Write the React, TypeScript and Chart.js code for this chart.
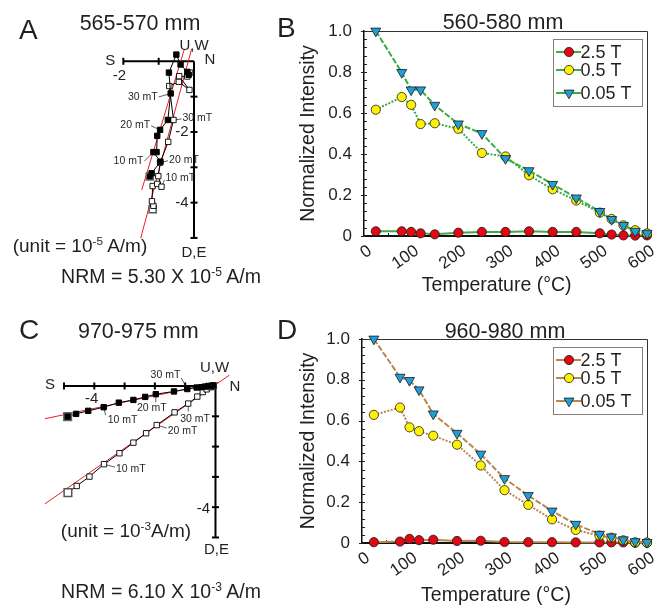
import React, { useEffect, useRef } from 'react';
import { Chart, registerables } from 'chart.js';

Chart.register(...registerables);

const FONT = '"Liberation Sans", Arial, Helvetica, sans-serif';
const INK = '#231f20';
const RED_FIT = '#ee1c25';
const RED = '#e30613';
const YELLOW = '#fff200';
const BLUE = '#1e9fd9';
const GREEN = '#3eab47';
const BROWN = '#b8874f';

// ---------- Thermal demagnetization of IRM components (panels B, D)
const temperatures = [25, 80, 100, 120, 150, 200, 250, 300, 350, 400, 450, 500, 525, 550, 575, 600];
const seriesNames = ['2.5 T', '0.5 T', '0.05 T'];
const tempTicks = [0, 100, 200, 300, 400, 500, 600];
const intensityTicks = [0, 0.2, 0.4, 0.6, 0.8, 1.0];

const b2_5T = [0.023, 0.023, 0.02, 0.013, 0.008, 0.016, 0.02, 0.02, 0.023, 0.02, 0.02, 0.013, 0.007, 0.003, 0.002, 0.003];
const b0_5T = [0.616, 0.678, 0.64, 0.546, 0.55, 0.523, 0.405, 0.388, 0.296, 0.228, 0.173, 0.114, 0.083, 0.052, 0.028, 0.013];
const b0_05T = [1.0, 0.798, 0.713, 0.713, 0.638, 0.547, 0.5, 0.378, 0.319, 0.252, 0.186, 0.12, 0.081, 0.052, 0.023, 0.013];

const d2_5T = [0.004, 0.007, 0.02, 0.014, 0.016, 0.01, 0.011, 0.005, 0.004, 0.004, 0.003, 0.003, 0.003, 0.003, 0.001, 0.001];
const d0_5T = [0.628, 0.664, 0.567, 0.548, 0.526, 0.482, 0.38, 0.259, 0.187, 0.116, 0.064, 0.036, 0.026, 0.013, 0.003, 0.002];
const d0_05T = [1.0, 0.813, 0.797, 0.751, 0.633, 0.538, 0.436, 0.316, 0.233, 0.157, 0.092, 0.043, 0.03, 0.016, 0.007, 0.003];

// ---------- Zijderveld diagram, 565-570 mm (panel A)
const aFilledX = [-1.25, -1.2, -0.95, -1.15, -1.06, -1.04, -0.96, -0.74, -0.66, -0.71, -0.5, -0.38, -0.19, -0.15];
const aFilledY = [-3.26, -3.17, -2.84, -2.57, -2.57, -2.11, -1.94, -1.66, -0.91, -0.32, 0.19, -0.09, -0.3, -0.38];
const aOpenX = [-1.17, -1.15, -1.19, -1.17, -1.04, -0.92, -1.01, -0.96, -0.73, -0.58, -0.7, -0.43, -0.13, -0.42, -0.19, -0.11];
const aOpenY = [-4.19, -4.09, -3.96, -3.53, -3.47, -3.55, -3.25, -2.87, -2.28, -1.66, -0.7, -0.58, -0.81, -0.42, -0.43, -0.32];
const aFitFilledX = [-1.48, -0.28];
const aFitFilledY = [-3.64, 0.32];
const aFitOpenX = [-1.51, -0.07];
const aFitOpenY = [-5.01, 0.34];
const aHTicks = [-2, -1];
const aVTicks = [-1, -2, -3, -4, -5];
const aHTickLabels = [-2];
const aVTickLabels = [-2, -4];

// ---------- Zijderveld diagram, 970-975 mm (panel C)
const cFilledX = [-4.88, -4.6, -4.2, -3.69, -3.19, -2.71, -2.32, -1.97, -1.37, -0.93, -0.62, -0.46, -0.35, -0.24, -0.13, -0.07];
const cFilledY = [-1.01, -0.92, -0.82, -0.7, -0.55, -0.46, -0.36, -0.27, -0.18, -0.1, -0.05, -0.04, -0.02, 0.0, 0.01, 0.02];
const cOpenX = [-4.87, -4.58, -4.16, -3.68, -3.17, -2.71, -2.29, -1.94, -1.35, -0.9, -0.6, -0.42, -0.29, -0.16, -0.07];
const cOpenY = [-3.52, -3.3, -2.99, -2.58, -2.22, -1.87, -1.56, -1.29, -0.87, -0.58, -0.35, -0.2, -0.11, -0.04, -0.02];
const cFitFilledX = [-5.63, 0.1];
const cFitFilledY = [-1.08, 0.12];
const cFitOpenX = [-5.63, 0.46];
const cFitOpenY = [-3.89, 0.36];
const cHTicks = [-5, -4, -3, -2, -1];
const cVTicks = [-1, -2, -3, -4, -5];
const cHTickLabels = [-4];
const cVTickLabels = [-4];

type MtLabel = { text: string; series: 'filled' | 'open'; index: number; tx: number; ty: number; lx: number; ly: number; align: CanvasTextAlign };
type DirLabel = { text: string; x: number; y: number; dx: number; dy: number };

type ZPanel = {
  filledX: number[]; filledY: number[]; openX: number[]; openY: number[];
  fitFX: number[]; fitFY: number[]; fitOX: number[]; fitOY: number[];
  hTicks: number[]; vTicks: number[]; hLabels: number[]; vLabels: number[];
  hOff: [number, number]; vOff: [number, number];
  xRange: [number, number]; yRange: [number, number];
  padding: { left: number; right: number; top: number; bottom: number };
  dirs: DirLabel[]; mt: MtLabel[]; r: number; nrmR: number;
};

const panelA: ZPanel = {
  filledX: aFilledX, filledY: aFilledY, openX: aOpenX, openY: aOpenY,
  fitFX: aFitFilledX, fitFY: aFitFilledY, fitOX: aFitOpenX, fitOY: aFitOpenY,
  hTicks: aHTicks, vTicks: aVTicks, hLabels: aHTickLabels, vLabels: aVTickLabels,
  hOff: [-4, 15], vOff: [-12, 0],
  xRange: [-2.661, 0.736], yRange: [-5.341, 0.603],
  padding: { left: 100, right: 30, top: 40, bottom: 50 },
  dirs: [
    { text: 'S', x: -2, y: 0, dx: -13, dy: 0 },
    { text: 'N', x: 0, y: 0, dx: 16, dy: -1 },
    { text: 'U,W', x: 0, y: 0, dx: 0, dy: -15 },
    { text: 'D,E', x: 0, y: -5, dx: 0, dy: 15 },
  ],
  mt: [
    { text: '30 mT', series: 'filled', index: 8, tx: -13, ty: 3.5, lx: -12, ly: 3.5, align: 'right' },
    { text: '20 mT', series: 'filled', index: 6, tx: -10, ty: -5, lx: -9, ly: -4, align: 'right' },
    { text: '10 mT', series: 'filled', index: 3, tx: -10, ty: 9.5, lx: -9, ly: 9, align: 'right' },
    { text: '30 mT', series: 'open', index: 9, tx: 9, ty: -2, lx: 8, ly: -1, align: 'left' },
    { text: '20 mT', series: 'open', index: 7, tx: 9, ty: -3, lx: 8, ly: -2, align: 'left' },
    { text: '10 mT', series: 'open', index: 5, tx: 4, ty: -9, lx: 3, ly: -7, align: 'left' },
  ],
  r: 3.8, nrmR: 5,
};

const panelC: ZPanel = {
  filledX: cFilledX, filledY: cFilledY, openX: cOpenX, openY: cOpenY,
  fitFX: cFitFilledX, fitFY: cFitFilledY, fitOX: cFitOpenX, fitOY: cFitOpenY,
  hTicks: cHTicks, vTicks: cVTicks, hLabels: cHTickLabels, vLabels: cVTickLabels,
  hOff: [-2.6, 13.3], vOff: [-12, 1.6],
  xRange: [-6.122, 0.743], yRange: [-5.743, 0.858],
  padding: { left: 30, right: 12, top: 60, bottom: 48 },
  dirs: [
    { text: 'S', x: -5, y: 0, dx: -14, dy: -1 },
    { text: 'N', x: 0, y: 0, dx: 19.5, dy: 1 },
    { text: 'U,W', x: 0, y: 0, dx: -1, dy: -18 },
    { text: 'D,E', x: 0, y: -5, dx: 1, dy: 12 },
  ],
  mt: [
    { text: '30 mT', series: 'filled', index: 9, tx: -7, ty: -14, lx: -6, ly: -11, align: 'right' },
    { text: '20 mT', series: 'filled', index: 7, tx: -4, ty: 14, lx: 0, ly: 8, align: 'center' },
    { text: '10 mT', series: 'filled', index: 3, tx: 4, ty: 13, lx: 2, ly: 8, align: 'left' },
    { text: '30 mT', series: 'open', index: 9, tx: -8, ty: 16, lx: 0, ly: 8, align: 'left' },
    { text: '20 mT', series: 'open', index: 7, tx: 11, ty: 6, lx: 10, ly: 3, align: 'left' },
    { text: '10 mT', series: 'open', index: 3, tx: 12, ty: 5, lx: 11, ly: 3, align: 'left' },
  ],
  r: 3.8, nrmR: 5.4,
};

const pts = (xs: number[], ys: number[]) => xs.map((x, i) => ({ x, y: ys[i] }));

function makeZijPlugin(p: ZPanel) {
  return {
    id: 'zijAnnot',
    beforeDatasetsDraw(chart: any) {
      const { ctx } = chart;
      const xs = chart.scales.x;
      const ys = chart.scales.y;
      ctx.save();
      ctx.strokeStyle = '#333';
      ctx.lineWidth = 0.8;
      p.mt.forEach((l) => {
        const X = l.series === 'filled' ? p.filledX : p.openX;
        const Y = l.series === 'filled' ? p.filledY : p.openY;
        const px = xs.getPixelForValue(X[l.index]);
        const py = ys.getPixelForValue(Y[l.index]);
        ctx.beginPath();
        ctx.moveTo(px, py);
        ctx.lineTo(px + l.lx, py + l.ly);
        ctx.stroke();
      });
      ctx.restore();
    },
    afterDatasetsDraw(chart: any) {
      const { ctx } = chart;
      const xs = chart.scales.x;
      const ys = chart.scales.y;
      ctx.save();
      ctx.fillStyle = INK;
      ctx.textBaseline = 'middle';
      ctx.font = `10.5px ${FONT}`;
      p.mt.forEach((l) => {
        const X = l.series === 'filled' ? p.filledX : p.openX;
        const Y = l.series === 'filled' ? p.filledY : p.openY;
        const px = xs.getPixelForValue(X[l.index]);
        const py = ys.getPixelForValue(Y[l.index]);
        ctx.textAlign = l.align;
        ctx.fillText(l.text, px + l.tx, py + l.ty);
      });
      ctx.font = `15px ${FONT}`;
      ctx.textAlign = 'center';
      p.dirs.forEach((d) => {
        ctx.fillText(d.text, xs.getPixelForValue(d.x) + d.dx, ys.getPixelForValue(d.y) + d.dy);
      });
      p.hLabels.forEach((v) => {
        ctx.fillText(String(v), xs.getPixelForValue(v) + p.hOff[0], ys.getPixelForValue(0) + p.hOff[1]);
      });
      p.vLabels.forEach((v) => {
        ctx.fillText(String(v), xs.getPixelForValue(0) + p.vOff[0], ys.getPixelForValue(v) + p.vOff[1]);
      });
      ctx.restore();
    },
  };
}

function zijConfig(p: ZPanel): any {
  const hEnd = Math.min(...p.hTicks);
  const vEnd = Math.min(...p.vTicks);
  return {
    type: 'scatter',
    data: {
      datasets: [
        {
          label: 'horizontal projection',
          data: pts(p.filledX, p.filledY),
          showLine: true,
          borderColor: '#000',
          borderWidth: 1,
          pointStyle: 'rect',
          pointRadius: p.filledX.map((_, i) => (i === 0 ? p.nrmR : p.r)),
          pointBackgroundColor: '#000',
          pointBorderColor: p.filledX.map((_, i) => (i === 0 ? '#666' : '#000')),
          pointBorderWidth: p.filledX.map((_, i) => (i === 0 ? 1.5 : 1)),
          clip: false,
          order: 0,
        },
        {
          label: 'vertical projection',
          data: pts(p.openX, p.openY),
          showLine: true,
          borderColor: '#000',
          borderWidth: 1,
          pointStyle: 'rect',
          pointRadius: p.openX.map((_, i) => (i === 0 ? p.nrmR : p.r)),
          pointBackgroundColor: '#fff',
          pointBorderColor: p.openX.map((_, i) => (i === 0 ? '#555' : '#000')),
          pointBorderWidth: p.openX.map((_, i) => (i === 0 ? 1.5 : 0.9)),
          clip: false,
          order: 1,
        },
        { label: 'fit h', data: pts(p.fitFX, p.fitFY), showLine: true, borderColor: RED_FIT, borderWidth: 1, pointRadius: 0, clip: false, order: 2 },
        { label: 'fit v', data: pts(p.fitOX, p.fitOY), showLine: true, borderColor: RED_FIT, borderWidth: 1, pointRadius: 0, clip: false, order: 2 },
        { label: 'axis h', data: [{ x: hEnd, y: 0 }, { x: 0, y: 0 }], showLine: true, borderColor: '#000', borderWidth: 2, pointRadius: 0, clip: false, order: 5 },
        { label: 'axis v', data: [{ x: 0, y: 0 }, { x: 0, y: vEnd }], showLine: true, borderColor: '#000', borderWidth: 2, pointRadius: 0, clip: false, order: 5 },
        {
          label: 'ticks h',
          data: p.hTicks.map((v) => ({ x: v, y: 0 })),
          showLine: false,
          pointStyle: 'line',
          pointRotation: 90,
          pointRadius: 3.5,
          pointBorderColor: '#000',
          pointBorderWidth: 2,
          clip: false,
          order: 5,
        },
        {
          label: 'ticks v',
          data: p.vTicks.map((v) => ({ x: 0, y: v })),
          showLine: false,
          pointStyle: 'line',
          pointRotation: 0,
          pointRadius: 3.5,
          pointBorderColor: '#000',
          pointBorderWidth: 2,
          clip: false,
          order: 5,
        },
      ],
    },
    options: {
      responsive: false,
      animation: false,
      events: [],
      layout: { padding: p.padding },
      plugins: { legend: { display: false }, tooltip: { enabled: false } },
      scales: {
        x: { type: 'linear', display: false, min: p.xRange[0], max: p.xRange[1] },
        y: { type: 'linear', display: false, min: p.yRange[0], max: p.yRange[1] },
      },
    },
    plugins: [makeZijPlugin(p)],
  };
}

type CurvePanel = { s25: number[]; s05: number[]; s005: number[]; color: string; top: number; xAxisH: number; yAxisW: number };

const panelB: CurvePanel = { s25: b2_5T, s05: b0_5T, s005: b0_05T, color: GREEN, top: 31, xAxisH: 64, yAxisW: 67 };
const panelD: CurvePanel = { s25: d2_5T, s05: d0_5T, s005: d0_05T, color: BROWN, top: 39, xAxisH: 65, yAxisW: 65 };

const frameTicksPlugin = {
  id: 'frameTicks',
  beforeDatasetsDraw(chart: any) {
    const { ctx, chartArea: ca } = chart;
    const xs = chart.scales.x;
    const ys = chart.scales.y;
    ctx.save();
    ctx.strokeStyle = '#333';
    ctx.lineWidth = 1;
    ctx.beginPath();
    ctx.moveTo(ca.left, ca.top + 0.5);
    ctx.lineTo(ca.right + 0.5, ca.top + 0.5);
    ctx.lineTo(ca.right + 0.5, ca.bottom);
    ctx.stroke();
    ctx.strokeStyle = INK;
    for (let k = 0; k <= 25; k++) {
      const py = Math.round(ys.getPixelForValue(k * 0.04)) + 0.5;
      const major = k % 5 === 0;
      ctx.lineWidth = 1;
      ctx.beginPath();
      ctx.moveTo(ca.left - (major ? 3 : 0), py);
      ctx.lineTo(ca.left + 3, py);
      ctx.stroke();
    }
    for (let t = 50; t < 600; t += 50) {
      const px = Math.round(xs.getPixelForValue(t)) + 0.5;
      const major = t % 100 === 0;
      ctx.beginPath();
      ctx.moveTo(px, ca.bottom);
      ctx.lineTo(px, ca.bottom - (major ? 5 : 3));
      ctx.stroke();
    }
    ctx.restore();
  },
};

function drawMarker(ctx: CanvasRenderingContext2D, style: string, x: number, y: number, r: number, fill: string) {
  ctx.beginPath();
  if (style === 'triangle') {
    const h = r * 1.5;
    const half = r * 0.866;
    ctx.moveTo(x, y + r);
    ctx.lineTo(x - half, y + r - h);
    ctx.lineTo(x + half, y + r - h);
    ctx.closePath();
  } else {
    ctx.arc(x, y, r, 0, Math.PI * 2);
  }
  ctx.fillStyle = fill;
  ctx.fill();
  ctx.strokeStyle = '#1a1a1a';
  ctx.lineWidth = 0.8;
  ctx.stroke();
}

const boxLegendPlugin = {
  id: 'boxLegend',
  afterDraw(chart: any) {
    const { ctx, chartArea: ca } = chart;
    const left = ca.right - 94;
    const top = ca.top + 8;
    const w = 89;
    const h = 67;
    const rowY = [13, 31, 54];
    ctx.save();
    ctx.fillStyle = '#fff';
    ctx.fillRect(left, top, w, h);
    ctx.strokeStyle = '#808080';
    ctx.lineWidth = 1;
    ctx.strokeRect(left + 0.5, top + 0.5, w, h);
    chart.data.datasets.forEach((ds: any, i: number) => {
      const y = top + rowY[i];
      ctx.strokeStyle = ds.borderColor;
      ctx.lineWidth = 2;
      ctx.setLineDash([]);
      ctx.beginPath();
      ctx.moveTo(left + 3, y);
      ctx.lineTo(left + 28, y);
      ctx.stroke();
      drawMarker(ctx, ds.pointStyle, left + 16, y, ds.pointRadius, ds.pointBackgroundColor);
      ctx.fillStyle = INK;
      ctx.font = `18px ${FONT}`;
      ctx.textAlign = 'left';
      ctx.textBaseline = 'middle';
      ctx.fillText(ds.label, left + 27.5, y + 1);
    });
    ctx.restore();
  },
};

function curveConfig(p: CurvePanel): any {
  const mk = (vals: number[]) => temperatures.map((t, i) => ({ x: t, y: vals[i] }));
  return {
    type: 'scatter',
    data: {
      datasets: [
        {
          label: seriesNames[0], data: mk(p.s25), showLine: true, borderColor: p.color, borderWidth: 2,
          pointStyle: 'circle', pointRadius: 4.6, pointBackgroundColor: RED, pointBorderColor: '#1a1a1a', pointBorderWidth: 0.8,
          clip: false, order: 3,
        },
        {
          label: seriesNames[1], data: mk(p.s05), showLine: true, borderColor: p.color, borderWidth: 2, borderDash: [2, 1.5],
          pointStyle: 'circle', pointRadius: 4.6, pointBackgroundColor: YELLOW, pointBorderColor: '#1a1a1a', pointBorderWidth: 0.8,
          clip: false, order: 2,
        },
        {
          label: seriesNames[2], data: mk(p.s005), showLine: true, borderColor: p.color, borderWidth: 2, borderDash: [6, 2],
          pointStyle: 'triangle', pointRotation: 180, pointRadius: 5.8, pointBackgroundColor: BLUE, pointBorderColor: '#1a1a1a', pointBorderWidth: 0.8,
          clip: false, order: 1,
        },
      ],
    },
    options: {
      responsive: false,
      animation: false,
      events: [],
      layout: { padding: { left: 57, right: 19, top: p.top, bottom: 0 } },
      plugins: { legend: { display: false }, tooltip: { enabled: false } },
      scales: {
        x: {
          type: 'linear', min: 0, max: 600,
          afterBuildTicks: (s: any) => { s.ticks = tempTicks.map((v) => ({ value: v })); },
          afterFit: (s: any) => { s.height = p.xAxisH; },
          grid: { display: false, drawTicks: false },
          border: { display: true, color: '#111', width: 2 },
          ticks: { minRotation: 35, maxRotation: 35, autoSkip: false, padding: 5, labelOffset: 6, color: INK, font: { family: FONT, size: 17 } },
        },
        y: {
          type: 'linear', min: 0, max: 1,
          afterBuildTicks: (s: any) => { s.ticks = intensityTicks.map((v) => ({ value: v })); },
          afterFit: (s: any) => { s.width = p.yAxisW; },
          grid: { display: false, drawTicks: false },
          border: { display: true, color: '#111', width: 1.5 },
          ticks: { padding: 12, color: INK, font: { family: FONT, size: 17 }, callback: (v: any) => (Number(v) === 0 ? '0' : Number(v).toFixed(1)) },
          title: { display: true, text: 'Normalized Intensity', color: INK, font: { family: FONT, size: 19.5 }, padding: { top: 0, bottom: 0 } },
        },
      },
    },
    plugins: [frameTicksPlugin, boxLegendPlugin],
  };
}

function Txt(props: { x: number; cy: number; size: number; center?: boolean; children: React.ReactNode }) {
  const { x, cy, size, center, children } = props;
  return (
    <div
      style={{
        position: 'absolute',
        left: x,
        top: cy - size * 0.49,
        fontSize: size,
        lineHeight: `${size}px`,
        whiteSpace: 'nowrap',
        transform: center ? 'translateX(-50%)' : undefined,
      }}
    >
      {children}
    </div>
  );
}

const Sup = (props: { children: React.ReactNode }) => (
  <span style={{ fontSize: '0.62em', position: 'relative', top: '-0.6em' }}>{props.children}</span>
);

export default function App() {
  const aRef = useRef<HTMLCanvasElement>(null);
  const bRef = useRef<HTMLCanvasElement>(null);
  const cRef = useRef<HTMLCanvasElement>(null);
  const dRef = useRef<HTMLCanvasElement>(null);

  useEffect(() => {
    const charts = [
      new Chart(aRef.current as HTMLCanvasElement, zijConfig(panelA)),
      new Chart(bRef.current as HTMLCanvasElement, curveConfig(panelB)),
      new Chart(cRef.current as HTMLCanvasElement, zijConfig(panelC)),
      new Chart(dRef.current as HTMLCanvasElement, curveConfig(panelD)),
    ];
    return () => charts.forEach((c) => c.destroy());
  }, []);

  const cv = (left: number, top: number, w: number, h: number): React.CSSProperties => ({
    position: 'absolute', left, top, width: w, height: h,
  });

  return (
    <div style={{ position: 'absolute', left: 0, top: 0, width: 666, height: 608, background: '#fff', fontFamily: FONT, color: INK, overflow: 'hidden' }}>
      <canvas ref={aRef} width={250} height={300} style={cv(0, 0, 250, 300)} />
      <canvas ref={bRef} width={426} height={300} style={cv(240, 0, 426, 300)} />
      <canvas ref={cRef} width={250} height={308} style={cv(0, 300, 250, 308)} />
      <canvas ref={dRef} width={426} height={308} style={cv(240, 300, 426, 308)} />

      <Txt x={19} cy={30} size={28}>A</Txt>
      <Txt x={140} cy={23.3} size={21.5} center>565-570 mm</Txt>
      <Txt x={80} cy={245} size={19} center>(unit = 10<Sup>-5</Sup> A/m)</Txt>
      <Txt x={161} cy={277} size={19.5} center>NRM = 5.30 X 10<Sup>-5</Sup> A/m</Txt>

      <Txt x={277} cy={28} size={28}>B</Txt>
      <Txt x={503} cy={22.7} size={21.5} center>560-580 mm</Txt>
      <Txt x={496.7} cy={285} size={19.5} center>Temperature (°C)</Txt>

      <Txt x={19} cy={330} size={28}>C</Txt>
      <Txt x={138.3} cy={331.7} size={21.5} center>970-975 mm</Txt>
      <Txt x={126} cy={530} size={19} center>(unit = 10<Sup>-3</Sup>A/m)</Txt>
      <Txt x={161} cy={591.7} size={19.5} center>NRM = 6.10 X 10<Sup>-3</Sup> A/m</Txt>

      <Txt x={277} cy={330} size={28}>D</Txt>
      <Txt x={505} cy={331.7} size={21.5} center>960-980 mm</Txt>
      <Txt x={496} cy={595} size={19.5} center>Temperature (°C)</Txt>
    </div>
  );
}
